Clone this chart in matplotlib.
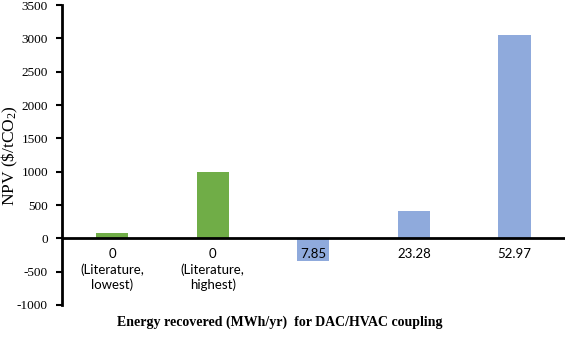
import matplotlib
matplotlib.use("Agg")
import matplotlib.pyplot as plt

plt.rcParams["mathtext.fontset"] = "custom"
plt.rcParams["mathtext.rm"] = "Liberation Serif"
plt.rcParams["mathtext.it"] = "Liberation Serif:italic"

categories = ["0\n(Literature,\nlowest)", "0\n(Literature,\nhighest)", "7.85", "23.28", "52.97"]
npv = [80, 1000, -345, 405, 3050]
colors = ["#70AD47", "#70AD47", "#8FAADC", "#8FAADC", "#8FAADC"]
yticks = [-1000, -500, 0, 500, 1000, 1500, 2000, 2500, 3000, 3500]

fig = plt.figure(figsize=(5.67, 3.37), dpi=100)
ax = fig.add_axes([0.109, 0.095, 0.887, 0.89])
x = list(range(len(categories)))
ax.bar(x, npv, width=0.32, color=colors, zorder=2)
ax.set_xlim(-0.5, len(categories) - 0.5)
ax.set_ylim(-1000, 3500)
ax.set_yticks(yticks)
ax.set_yticklabels([str(t) for t in yticks], family="Liberation Serif", fontsize=9.5)
ax.tick_params(axis="y", direction="out", length=4, width=1.5, pad=6)
for s in ["top", "right", "bottom"]:
    ax.spines[s].set_visible(False)
ax.spines["left"].set_linewidth(2)
ax.axhline(0, color="black", linewidth=2, zorder=3)
ax.set_xticks([])
for xi, lab in zip(x, categories):
    ax.text(xi, -150, lab, ha="center", va="top", fontsize=9.5, family="Lato",
            linespacing=1.25, zorder=4)
fig.text(0.494, 0.045, "Energy recovered (MWh/yr)  for DAC/HVAC coupling", ha="center",
         va="center", family="Liberation Serif", fontweight="bold", fontsize=10)
fig.text(0.017, 0.54, r"NPV (\$/tCO$_2$)", family="Liberation Serif", fontsize=12.5,
         rotation=90, ha="center", va="center")
fig.savefig("out.png", dpi=100)
